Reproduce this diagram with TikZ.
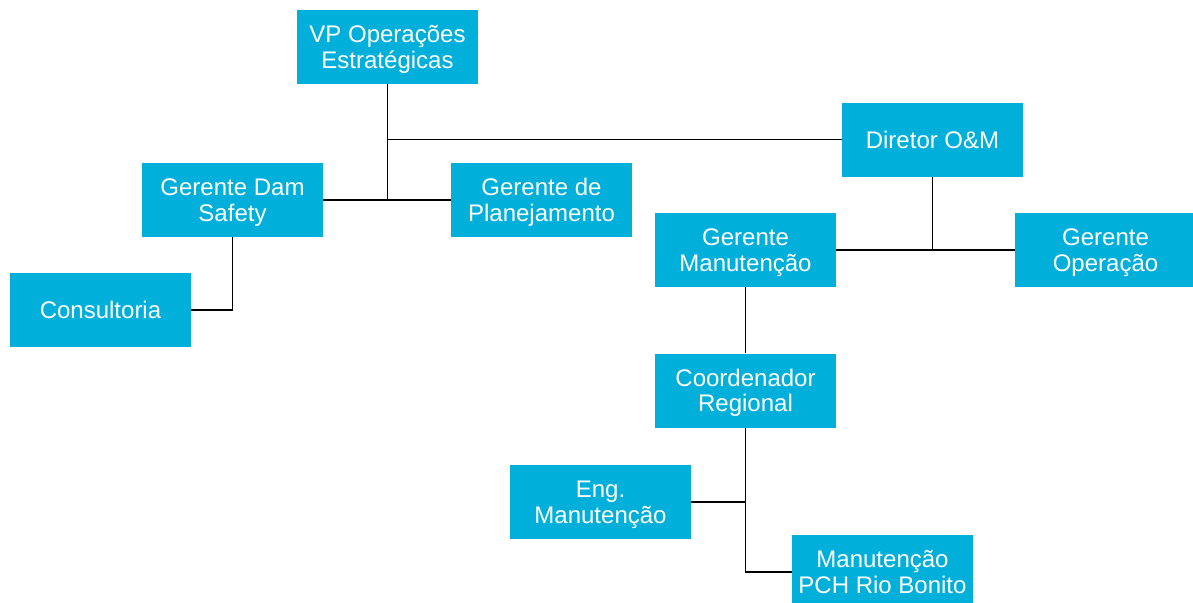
\documentclass[tikz,border=0pt]{standalone}
\usepackage{fontspec}
\setmainfont{Liberation Sans}
\definecolor{boxblue}{RGB}{0,176,219}
\begin{document}
\begin{tikzpicture}[x=1pt,y=-1pt,
  orgbox/.style={fill=boxblue, text=white, align=center, minimum width=181pt, minimum height=74pt, inner sep=0pt,
    text depth=0pt, font=\fontsize{24pt}{25.5pt}\selectfont},
  link/.style={draw=black, line width=1.4pt}]
\clip (0,0) rectangle (1193,602);
\fill[white] (0,0) rectangle (1193,602);
\node[orgbox] (vp) at (387.5,47) {VP Operações\\Estratégicas};
\node[orgbox] (dam) at (232.5,200) {Gerente Dam\\Safety};
\node[orgbox] (plan) at (541.5,200) {Gerente de\\Planejamento};
\node[orgbox] (cons) at (100.5,310) {Consultoria};
\node[orgbox] (dir) at (932.5,139.5) {Diretor O\&M};
\node[orgbox] (gm) at (745.5,250) {Gerente\\Manutenção};
\node[orgbox] (go) at (1105.5,250) {Gerente\\Operação};
\node[orgbox] (coord) at (745.5,390.5) {Coordenador\\Regional};
\node[orgbox] (eng) at (600.5,502) {Eng.\\Manutenção};
\node[orgbox] (pch) at (882.5,572) {Manutenção\\PCH Rio Bonito};
\draw[link] (vp.south) -- (vp.south |- dam.east);
\draw[link] (dam.east) -- (plan.west);
\draw[link] (vp.south |- dir.west) -- (dir.west);
\draw[link] (dam.south) |- (cons.east);
\draw[link] (dir.south) -- (dir.south |- gm.east);
\draw[link] (gm.east) -- (go.west);
\draw[link] (gm.south) -- (coord.north);
\draw[link] (coord.south) |- (pch.west);
\draw[link] (eng.east) -- (eng.east -| coord.south);
\end{tikzpicture}
\end{document}
